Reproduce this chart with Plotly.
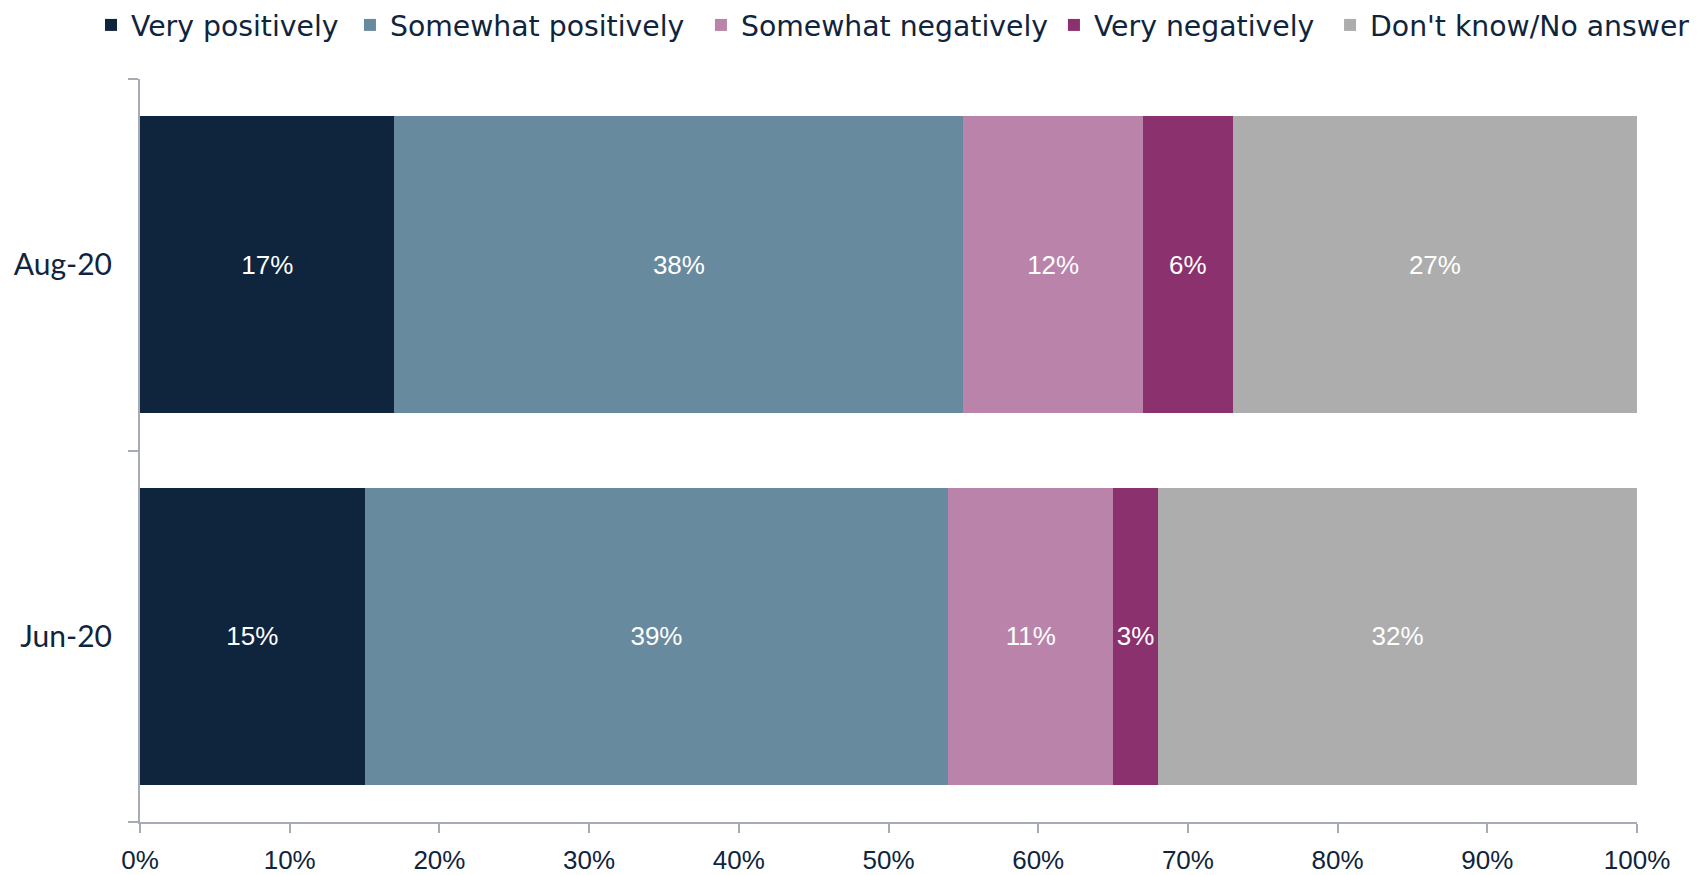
import plotly.graph_objects as go

categories = ["Jun-20", "Aug-20"]
series_names = ["Very positively", "Somewhat positively", "Somewhat negatively",
                "Very negatively", "Don't know/No answer"]
values = {
    "Very positively": [15, 17],
    "Somewhat positively": [39, 38],
    "Somewhat negatively": [11, 12],
    "Very negatively": [3, 6],
    "Don't know/No answer": [32, 27],
}
colors = ["#0F243D", "#688A9E", "#BA83A9", "#8B316E", "#ADADAD"]
x_ticks = [0, 10, 20, 30, 40, 50, 60, 70, 80, 90, 100]
x_ticklabels = [f"{t}%" for t in x_ticks]

TEXT = "#0F243D"
AXIS = "#A6ABB5"

# legend entry positions (container x of each entry box)
legend_x = [0.0536, 0.2061, 0.4128, 0.6207, 0.7833]

fig = go.Figure()
for i, (name, col) in enumerate(zip(series_names, colors)):
    lg = "legend" if i == 0 else f"legend{i+1}"
    fig.add_trace(go.Bar(
        y=categories, x=values[name], name=name, orientation="h",
        marker=dict(color=col, line=dict(width=0)),
        text=[f"{v}%" for v in values[name]],
        textposition="inside", insidetextanchor="middle", textangle=0,
        textfont=dict(color="white", size=26, family="Liberation Sans, Arial, sans-serif"),
        constraintext="none",
        hoverinfo="skip",
        legend=lg,
    ))

legend_common = dict(
    orientation="h", xanchor="left", xref="container",
    y=0.9714, yanchor="middle", yref="container",
    font=dict(family="DejaVu Sans, sans-serif", size=28.3, color=TEXT),
    itemclick=False, itemdoubleclick=False, bgcolor="rgba(0,0,0,0)",
)
legends = {}
for i, lx in enumerate(legend_x):
    key = "legend" if i == 0 else f"legend{i+1}"
    legends[key] = dict(x=lx, **legend_common)

fig.update_layout(
    barmode="stack",
    bargap=0.2,
    width=1698, height=875,
    margin=dict(l=140, r=61, t=79, b=53, autoexpand=False),
    plot_bgcolor="white", paper_bgcolor="white",
    showlegend=True,
    xaxis=dict(
        range=[0, 100], tickvals=x_ticks, ticktext=x_ticklabels,
        showgrid=False, zeroline=False, automargin=False,
        showline=True, linecolor=AXIS, linewidth=2,
        ticks="outside", ticklen=9, tickcolor=AXIS, tickwidth=1.5,
        tickfont=dict(family="Liberation Sans, Arial, sans-serif", size=26, color=TEXT),
        ticklabelstandoff=5,
    ),
    yaxis=dict(
        categoryorder="array", categoryarray=categories,
        showgrid=False, zeroline=False, automargin=False,
        showline=True, linecolor=AXIS, linewidth=2,
        ticks="outside", ticklen=10, tickcolor=AXIS, tickwidth=1.5,
        tickson="boundaries",
        tickfont=dict(family="Lato, sans-serif", size=30, color=TEXT),
        ticklabelstandoff=20,
    ),
    **legends,
)

fig.write_html("out.html", config={"displayModeBar": False},
               post_script="document.body.style.margin='0px';")
